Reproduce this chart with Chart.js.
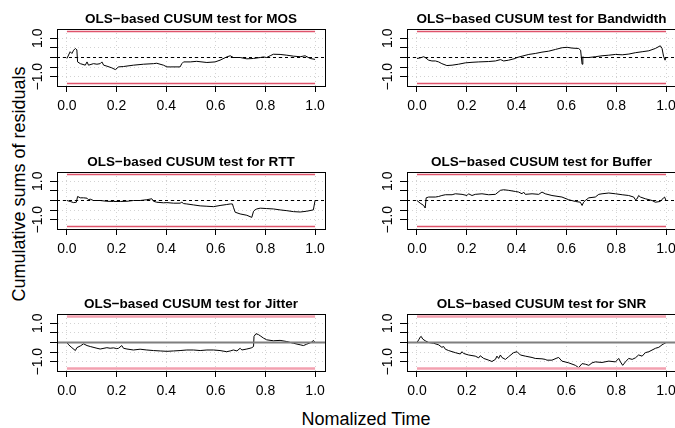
<!DOCTYPE html>
<html>
<head>
<meta charset="utf-8">
<script src="https://cdn.jsdelivr.net/npm/chart.js@4.4.1/dist/chart.umd.min.js"></script>
<style>
  html, body { margin: 0; padding: 0; background: #fff; }
  body { position: relative; width: 675px; height: 428px; overflow: hidden; font-family: "Liberation Sans", Arial, sans-serif; }
  canvas { position: absolute; }
  .lab { position: absolute; width: 300px; text-align: center; font-size: 18px; line-height: 18px; color: #000; white-space: nowrap; }
  #ylab { left: -131px; top: 175px; transform: rotate(-90deg); }
  #xlab { left: 216px; top: 410px; }
</style>
</head>
<body>
<div class="lab" id="ylab">Cumulative sums of residuals</div>
<div class="lab" id="xlab">Nomalized Time</div>
<script>
// axis ticks
const xTicks = [0, 0.2, 0.4, 0.6, 0.8, 1];
const xTickLabels = ['0.0', '0.2', '0.4', '0.6', '0.8', '1.0'];
const yTicks = [-1, -0.5, 0, 0.5, 1];
const yTickLabels = ['\u22121.0', '', '', '', '1.0'];
const boundary = 1.358;   // 5% critical value of the OLS-CUSUM test
const panelNames = ['MOS', 'Bandwidth', 'RTT', 'Buffer', 'Jitter', 'SNR'];

// empirical fluctuation processes (time, value)
const mosT = [0, 0.013, 0.020, 0.027, 0.034, 0.040, 0.043, 0.054, 0.074, 0.081, 0.087, 0.107, 0.121, 0.134, 0.141, 0.148, 0.161, 0.181, 0.195, 0.208, 0.228, 0.268, 0.309, 0.349, 0.362, 0.389, 0.403, 0.416, 0.456, 0.463, 0.470, 0.497, 0.523, 0.564, 0.597, 0.617, 0.644, 0.658, 0.671, 0.698, 0.725, 0.752, 0.779, 0.792, 0.805, 0.819, 0.832, 0.859, 0.886, 0.913, 0.940, 0.960, 0.980, 1.000];
const mosV = [-0.05, 0.30, 0.21, 0.38, 0.47, 0.40, -0.23, -0.32, -0.40, -0.23, -0.40, -0.32, -0.35, -0.32, -0.23, -0.40, -0.45, -0.54, -0.63, -0.49, -0.47, -0.40, -0.35, -0.32, -0.30, -0.40, -0.49, -0.49, -0.49, -0.32, -0.23, -0.23, -0.20, -0.26, -0.23, -0.14, 0.03, 0.09, 0.00, 0.00, -0.07, -0.05, 0.00, 0.03, 0.00, 0.09, 0.17, 0.16, 0.12, 0.07, 0.04, 0.09, -0.05, -0.10];

const bwT = [0, 0.013, 0.027, 0.033, 0.047, 0.060, 0.074, 0.087, 0.100, 0.120, 0.141, 0.167, 0.194, 0.221, 0.248, 0.288, 0.315, 0.335, 0.341, 0.348, 0.368, 0.395, 0.402, 0.422, 0.449, 0.475, 0.502, 0.529, 0.556, 0.583, 0.603, 0.623, 0.649, 0.657, 0.663, 0.666, 0.670, 0.690, 0.716, 0.743, 0.770, 0.797, 0.824, 0.851, 0.877, 0.904, 0.931, 0.957, 0.977, 0.984, 0.990, 0.996, 1.000];
const bwV = [-0.05, -0.02, 0.04, 0.00, -0.14, -0.18, -0.18, -0.23, -0.32, -0.42, -0.40, -0.35, -0.28, -0.25, -0.23, -0.21, -0.18, -0.11, -0.14, -0.18, -0.14, -0.05, 0.00, 0.07, 0.16, 0.21, 0.28, 0.33, 0.42, 0.51, 0.53, 0.49, 0.47, 0.38, -0.35, 0.04, 0.00, 0.00, 0.04, 0.09, 0.12, 0.16, 0.14, 0.18, 0.25, 0.30, 0.35, 0.47, 0.61, 0.47, 0.07, -0.14, 0.00];

const rttT = [0, 0.013, 0.027, 0.038, 0.043, 0.054, 0.067, 0.081, 0.087, 0.094, 0.107, 0.134, 0.161, 0.188, 0.215, 0.242, 0.268, 0.295, 0.322, 0.342, 0.349, 0.362, 0.389, 0.403, 0.430, 0.456, 0.463, 0.470, 0.483, 0.510, 0.537, 0.564, 0.591, 0.617, 0.644, 0.658, 0.667, 0.671, 0.678, 0.698, 0.725, 0.745, 0.752, 0.758, 0.765, 0.779, 0.805, 0.832, 0.859, 0.886, 0.913, 0.940, 0.966, 0.993, 1.000];
const rttV = [0.00, -0.05, -0.11, -0.09, 0.21, 0.14, 0.14, 0.12, 0.04, 0.07, 0.00, 0.00, -0.04, -0.05, -0.05, -0.04, 0.00, 0.00, 0.04, 0.09, -0.04, -0.09, -0.12, -0.11, -0.14, -0.14, -0.09, -0.16, -0.18, -0.23, -0.28, -0.30, -0.32, -0.26, -0.21, -0.18, -0.18, -0.35, -0.61, -0.70, -0.77, -0.88, -0.56, -0.49, -0.44, -0.40, -0.42, -0.44, -0.49, -0.53, -0.58, -0.60, -0.56, -0.49, 0.00];

const bufT = [0, 0.013, 0.027, 0.033, 0.037, 0.047, 0.074, 0.087, 0.100, 0.114, 0.141, 0.154, 0.181, 0.201, 0.207, 0.221, 0.234, 0.261, 0.288, 0.315, 0.335, 0.348, 0.368, 0.395, 0.408, 0.422, 0.428, 0.435, 0.462, 0.489, 0.502, 0.515, 0.542, 0.582, 0.609, 0.636, 0.656, 0.663, 0.669, 0.676, 0.690, 0.716, 0.730, 0.743, 0.770, 0.797, 0.824, 0.850, 0.870, 0.877, 0.884, 0.890, 0.897, 0.917, 0.944, 0.957, 0.977, 0.990, 0.994, 1.000];
const bufV = [0.00, -0.14, -0.26, -0.39, 0.14, 0.18, 0.18, 0.21, 0.26, 0.30, 0.30, 0.35, 0.32, 0.26, 0.35, 0.26, 0.32, 0.35, 0.30, 0.32, 0.53, 0.56, 0.53, 0.47, 0.44, 0.35, 0.44, 0.32, 0.35, 0.32, 0.44, 0.35, 0.26, 0.18, 0.04, -0.05, -0.09, -0.26, -0.09, 0.00, 0.14, 0.18, 0.32, 0.35, 0.39, 0.35, 0.30, 0.26, 0.18, 0.04, 0.09, 0.26, 0.18, 0.09, 0.00, -0.09, -0.05, 0.14, 0.18, 0.00];

const jitT = [0, 0.007, 0.020, 0.034, 0.040, 0.054, 0.067, 0.081, 0.094, 0.121, 0.134, 0.161, 0.174, 0.188, 0.201, 0.208, 0.221, 0.228, 0.242, 0.268, 0.295, 0.322, 0.349, 0.376, 0.403, 0.430, 0.456, 0.483, 0.510, 0.537, 0.564, 0.591, 0.617, 0.644, 0.658, 0.671, 0.685, 0.698, 0.705, 0.725, 0.738, 0.745, 0.752, 0.754, 0.762, 0.772, 0.779, 0.792, 0.805, 0.832, 0.859, 0.886, 0.913, 0.940, 0.953, 0.966, 0.987, 0.993, 1.000];
const jitV = [0.00, -0.12, -0.27, -0.42, -0.27, -0.18, -0.07, -0.16, -0.21, -0.30, -0.34, -0.27, -0.30, -0.28, -0.32, -0.30, -0.16, -0.30, -0.34, -0.39, -0.35, -0.39, -0.42, -0.44, -0.46, -0.44, -0.42, -0.39, -0.39, -0.42, -0.39, -0.39, -0.42, -0.48, -0.44, -0.39, -0.44, -0.30, -0.39, -0.34, -0.30, -0.27, -0.21, 0.32, 0.46, 0.41, 0.35, 0.23, 0.14, 0.09, 0.11, 0.05, -0.04, -0.12, -0.16, -0.09, 0.02, 0.11, 0.00];

const snrT = [0, 0.007, 0.013, 0.017, 0.023, 0.033, 0.047, 0.067, 0.087, 0.100, 0.107, 0.114, 0.127, 0.154, 0.174, 0.181, 0.187, 0.207, 0.234, 0.248, 0.254, 0.268, 0.288, 0.301, 0.315, 0.321, 0.328, 0.335, 0.341, 0.355, 0.368, 0.388, 0.402, 0.415, 0.435, 0.462, 0.475, 0.502, 0.515, 0.522, 0.542, 0.562, 0.569, 0.582, 0.609, 0.636, 0.649, 0.663, 0.676, 0.690, 0.703, 0.716, 0.743, 0.770, 0.797, 0.810, 0.817, 0.826, 0.837, 0.850, 0.864, 0.877, 0.890, 0.904, 0.917, 0.931, 0.958, 0.971, 0.984, 0.991, 1.000];
const snrV = [0.00, 0.14, 0.28, 0.32, 0.18, 0.09, 0.00, -0.04, -0.12, -0.25, -0.21, -0.35, -0.42, -0.53, -0.60, -0.48, -0.57, -0.65, -0.71, -0.80, -0.69, -0.83, -0.92, -0.99, -0.88, -0.71, -0.83, -0.65, -0.78, -0.88, -0.74, -0.53, -0.48, -0.65, -0.71, -0.78, -0.83, -0.85, -0.88, -0.92, -0.92, -0.81, -0.78, -0.97, -1.06, -1.19, -1.31, -1.10, -1.13, -1.19, -1.06, -1.01, -1.04, -0.97, -1.01, -0.83, -1.01, -1.19, -1.01, -0.83, -0.88, -0.80, -0.65, -0.71, -0.53, -0.48, -0.30, -0.25, -0.12, -0.07, 0.00];

const seriesT = [mosT, bwT, rttT, bufT, jitT, snrT];
const seriesV = [mosV, bwV, rttV, bufV, jitV, snrV];

// layout of the 3x2 grid (canvas placement only)
const colLeft = [20, 370];
const colWidth = [315, 320];
const colPadRight = [10, 14];
const rowTop = [1, 144, 286];
const panelHeight = 121;
const xMin = -0.04, xMax = 1.04;

const FONT = '"Liberation Sans", Arial, sans-serif';
Chart.defaults.font.family = FONT;
Chart.defaults.color = '#000';

const boxPlugin = {
  id: 'box',
  afterDraw(chart) {
    const { ctx, chartArea: a } = chart;
    const p = v => Math.round(v - 0.5) + 0.5;
    ctx.save();
    ctx.strokeStyle = '#000';
    ctx.lineWidth = 1;
    ctx.strokeRect(p(a.left), p(a.top), p(a.right) - p(a.left), p(a.bottom) - p(a.top));
    ctx.restore();
  }
};

panelNames.forEach((name, i) => {
  const row = Math.floor(i / 2), col = i % 2;
  const canvas = document.createElement('canvas');
  canvas.width = colWidth[col];
  canvas.height = panelHeight;
  canvas.style.left = colLeft[col] + 'px';
  canvas.style.top = rowTop[row] + 'px';
  document.body.appendChild(canvas);

  const lastRow = row === 2;
  const redColor = lastRow ? '#f3a1b0' : '#df536b';
  const redWidth = lastRow ? 2.5 : 1.5;

  new Chart(canvas, {
    type: 'line',
    data: {
      datasets: [
        {
          data: seriesT[i].map((t, k) => ({ x: t, y: seriesV[i][k] })),
          borderColor: '#000', borderWidth: 1, pointRadius: 0, tension: 0, order: 3
        },
        {
          data: [{ x: 0, y: boundary }, { x: 1, y: boundary }],
          borderColor: redColor, borderWidth: redWidth, pointRadius: 0, order: 2
        },
        {
          data: [{ x: 0, y: -boundary }, { x: 1, y: -boundary }],
          borderColor: redColor, borderWidth: redWidth, pointRadius: 0, order: 2
        },
        {
          data: [{ x: xMin, y: 0 }, { x: xMax, y: 0 }],
          borderColor: lastRow ? '#7f7f7f' : '#000',
          borderWidth: lastRow ? 2 : 1,
          borderDash: lastRow ? [] : [3, 3],
          pointRadius: 0, order: 1
        }
      ]
    },
    options: {
      responsive: false,
      animation: false,
      layout: { padding: { left: 0, right: colPadRight[col], top: 0, bottom: 0 } },
      plugins: {
        legend: { display: false },
        tooltip: { enabled: false },
        title: {
          display: true,
          fullSize: false,
          text: 'OLS\u2212based CUSUM test for ' + name,
          color: '#000',
          font: { size: 13.5, weight: 'bold', lineHeight: '16px' },
          padding: { top: 10.5, bottom: 1.5 }
        }
      },
      scales: {
        x: {
          type: 'linear', min: xMin, max: xMax,
          afterBuildTicks: s => { s.ticks = xTicks.map(v => ({ value: v })); },
          afterFit: s => { s.height = 36; s.paddingLeft = 0; s.paddingRight = 0; },
          ticks: {
            callback: (v, k) => xTickLabels[k],
            autoSkip: false, maxRotation: 0, padding: 5.5,
            color: '#000', font: { size: 14 }
          },
          grid: { color: '#d3d3d3', tickColor: '#000', tickLength: 6, tickBorderDash: [] },
          border: { display: true, color: '#000', dash: [1, 3] }
        },
        y: {
          type: 'linear', min: -1.485, max: 1.485,
          afterBuildTicks: s => { s.ticks = yTicks.map(v => ({ value: v })); },
          afterFit: s => { s.width = 37; s.paddingTop = 0; s.paddingBottom = 0; },
          ticks: {
            callback: (v, k) => yTickLabels[k],
            autoSkip: false, minRotation: 90, maxRotation: 90,
            crossAlign: 'center', padding: -2,
            color: '#000', font: { size: 14 }
          },
          grid: { color: '#d3d3d3', tickColor: '#000', tickLength: 7, tickBorderDash: [] },
          border: { display: true, color: '#000', dash: [1, 3] }
        }
      }
    },
    plugins: [boxPlugin]
  });
});
</script>
</body>
</html>
